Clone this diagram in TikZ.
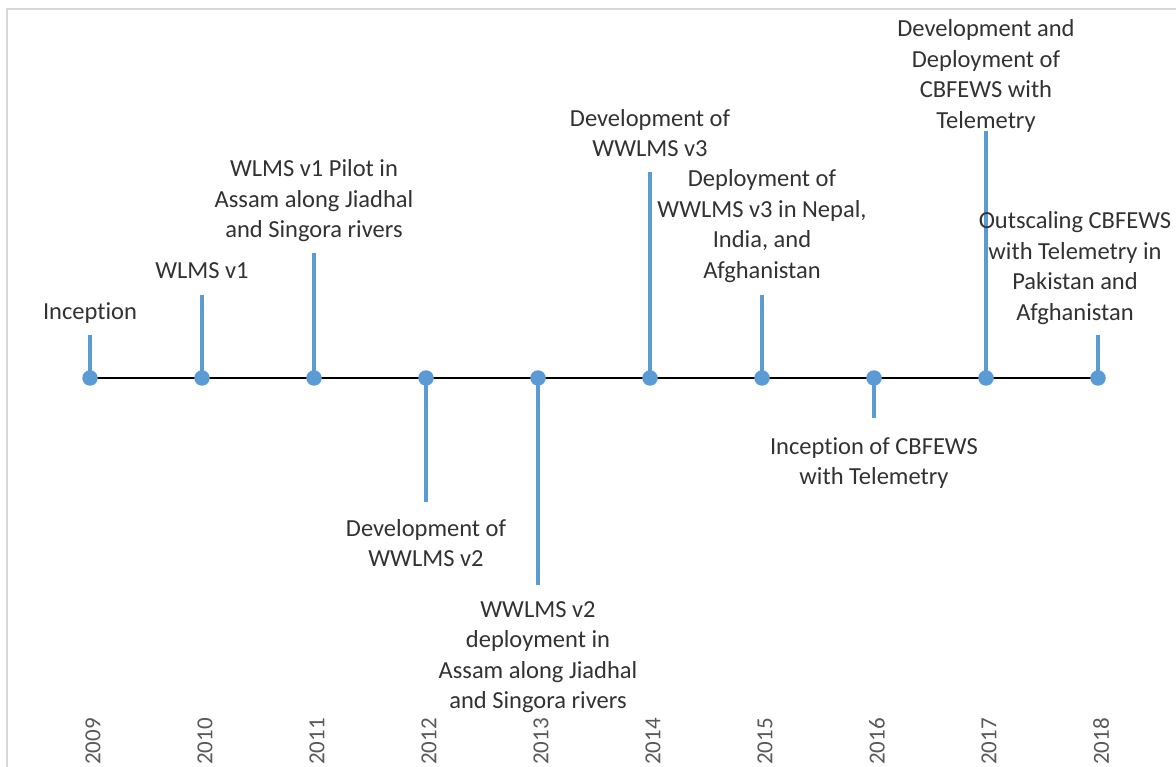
\documentclass[tikz,border=0pt]{standalone}
\usepackage{fontspec}
\setmainfont{Carlito}[Ligatures=NoCommon]
\definecolor{stemblue}{RGB}{91,155,213}
\definecolor{labelgray}{RGB}{50,50,50}
\definecolor{yeargray}{RGB}{89,89,89}
\definecolor{framegray}{RGB}{217,217,217}
\tikzset{
  event/.style={font=\fontsize{24.5}{30.5}\selectfont, text=labelgray, align=center, inner sep=0pt},
  yearlabel/.style={font=\fontsize{23}{27}\selectfont, text=yeargray, rotate=90, anchor=east, inner sep=0pt},
  stem/.style={draw=stemblue, line width=3.1pt},
  dot/.style={circle, fill=stemblue, minimum size=15.5pt, inner sep=0pt},
  axisline/.style={draw=black, line width=2.8pt}
}
\begin{document}
\begin{tikzpicture}[x=1pt,y=-1pt]
\useasboundingbox (0,0) rectangle (1176,767);
\clip (0,0) rectangle (1176,767);
% chart frame
\draw[framegray, line width=2pt] (7,9) rectangle (1200,800);

% positions on the time axis
\foreach \yr/\x in {2009/90,2010/202,2011/314,2012/426,2013/538,2014/650,2015/762,2016/874,2017/986,2018/1098}{
  \coordinate (a\yr) at (\x,378);
}
% free ends of the stems
\coordinate (s2009) at (90,335);
\coordinate (s2010) at (202,295);
\coordinate (s2011) at (314,253);
\coordinate (s2012) at (426,502);
\coordinate (s2013) at (538,585);
\coordinate (s2014) at (650,172);
\coordinate (s2015) at (762,295);
\coordinate (s2016) at (874,418);
\coordinate (s2017) at (986,131);
\coordinate (s2018) at (1098,335);

\draw[axisline] (a2009) -- (a2018);
\foreach \yr in {2009,2010,2011,2012,2013,2014,2015,2016,2017,2018}{
  \draw[stem] (a\yr) -- (s\yr);
}
\foreach \yr in {2009,2010,2011,2012,2013,2014,2015,2016,2017,2018}{
  \node[dot] (d\yr) at (a\yr) {};
}

% milestone labels
\node[event] (l2009) at (90,313) {Inception};
\node[event] (l2010) at (202,271) {WLMS v1};
\node[event] (l2011) at (314,201) {WLMS v1 Pilot in\\Assam along Jiadhal\\and Singora rivers};
\node[event] (l2012) at (426,543) {Development of\\WWLMS v2};
\node[event] (l2013) at (538,657) {WWLMS v2\\deployment in\\Assam along Jiadhal\\and Singora rivers};
\node[event] (l2014) at (650,133) {Development of\\WWLMS v3};
\node[event] (l2015) at (762,226) {Deployment of\\WWLMS v3 in Nepal,\\India, and\\Afghanistan};
\node[event] (l2016) at (874,463) {Inception of CBFEWS\\with Telemetry};
\node[event] (l2017) at (986,76) {Development and\\Deployment of\\CBFEWS with\\Telemetry};
\node[event] (l2018) at (1075,268) {Outscaling CBFEWS\\with Telemetry in\\Pakistan and\\Afghanistan};

% year captions
\foreach \yr/\x in {2009/93,2010/205,2011/317,2012/429,2013/541,2014/653,2015/765,2016/877,2017/989,2018/1101}{
  \node[yearlabel] (y\yr) at (\x,718) {\yr};
}
\end{tikzpicture}
\end{document}
